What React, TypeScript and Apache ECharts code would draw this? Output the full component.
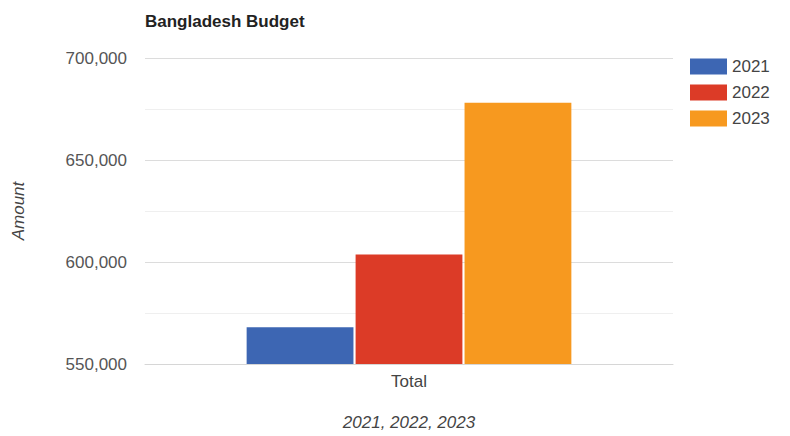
import React, { useEffect, useRef } from "react";
import * as echarts from "echarts";

const categories = ["Total"];
const years = ["2021", "2022", "2023"];
const values = [568000, 603681, 678064];
const colors = ["#3d66b3", "#dc3b27", "#f7991f"];
const yMin = 550000;
const yMax = 700000;

export default function App() {
  const ref = useRef<HTMLDivElement>(null);
  useEffect(() => {
    document.body.style.margin = "0";
    const chart = echarts.init(ref.current!, null, { renderer: "svg" });
    const font = "Arial, 'Liberation Sans', sans-serif";
    chart.setOption({
      animation: false,
      textStyle: { fontFamily: font },
      title: {
        text: "Bangladesh Budget",
        left: 140,
        top: 8,
        textStyle: { fontSize: 17, fontWeight: "bold", color: "#222", fontFamily: font },
      },
      legend: {
        orient: "vertical",
        left: 685,
        top: 53,
        itemWidth: 37,
        itemHeight: 16,
        itemGap: 9,
        icon: "rect",
        data: years,
        textStyle: { fontSize: 17, color: "#444", fontFamily: font },
      },
      grid: { left: 145, right: 117, top: 58, bottom: 69, containLabel: false },
      xAxis: {
        type: "category",
        data: categories,
        name: "2021, 2022, 2023",
        nameLocation: "middle",
        nameGap: 50,
        nameTextStyle: { fontSize: 17, fontStyle: "italic", color: "#444", fontFamily: font },
        axisLine: { lineStyle: { color: "#d6d6d6", width: 1 } },
        axisTick: { show: false },
        axisLabel: { fontSize: 17, color: "#444", margin: 9, fontFamily: font },
      },
      yAxis: {
        type: "value",
        min: yMin,
        max: yMax,
        interval: 25000,
        name: "Amount",
        nameLocation: "middle",
        nameGap: 118,
        nameTextStyle: { fontSize: 17, fontStyle: "italic", color: "#444", fontFamily: font },
        axisLine: { show: false },
        axisTick: { show: false },
        axisLabel: {
          fontSize: 17,
          color: "#555",
          margin: 18,
          fontFamily: font,
          formatter: (v: number) =>
            v % 50000 === 0 ? v.toLocaleString("en-US") : "",
        },
        splitLine: { lineStyle: { color: ["#dcdcdc", "#efefef"], width: 1 } },
      },
      series: years.map((y, i) => ({
        name: y,
        type: "bar",
        data: [values[i]],
        itemStyle: { color: colors[i] },
        barGap: "2%",
        barCategoryGap: "38.5%",
      })),
    });
    return () => chart.dispose();
  }, []);
  return (
    <div
      ref={ref}
      style={{ width: 790, height: 436, position: "absolute", left: 0, top: 0, background: "#fff" }}
    />
  );
}
